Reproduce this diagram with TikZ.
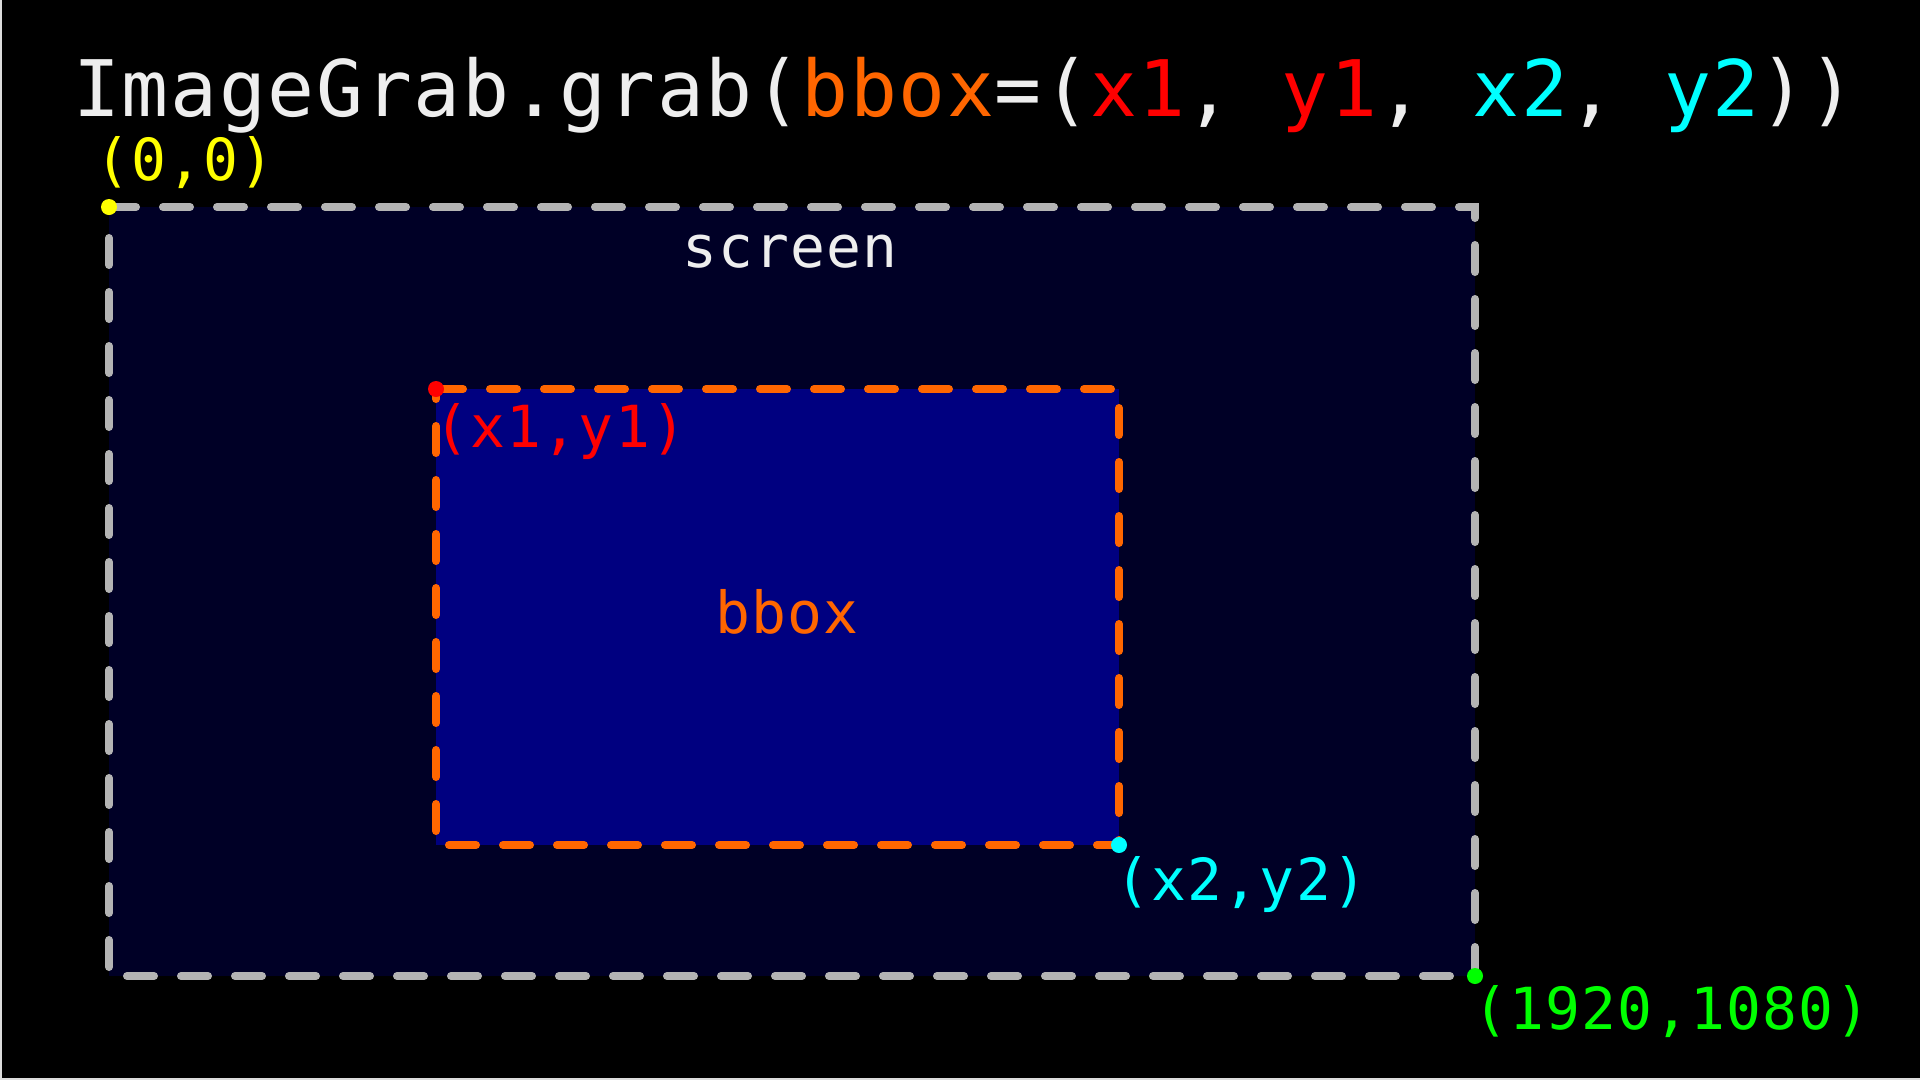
\documentclass[tikz,border=0pt]{standalone}
\usepackage{fontspec}
\newfontfamily\monofam[LetterSpace=2.2]{DejaVu Sans Mono}
\definecolor{txtw}{HTML}{EEEEEE}
\definecolor{scrgray}{HTML}{B4B4B4}
\definecolor{bboxorange}{HTML}{FF6600}
\definecolor{xyred}{HTML}{FF0000}
\definecolor{xycyan}{HTML}{00FFFF}
\definecolor{originyellow}{HTML}{FFFF00}
\definecolor{endgreen}{HTML}{00FF00}
\definecolor{scrfill}{HTML}{000026}
\definecolor{bboxfill}{HTML}{000080}
\definecolor{edgegray}{HTML}{DCDCDC}
\tikzset{
  dashbox/.style={line width=8pt, dash pattern=on 27pt off 27pt, line cap=round},
  dotmark/.style={circle, inner sep=0pt, minimum size=16pt},
  lbl/.style={inner sep=0pt, anchor=base west, font=\monofam\fontsize{58}{64}\selectfont},
  ctrlbl/.style={inner sep=0pt, anchor=base, font=\monofam\fontsize{58}{64}\selectfont},
}
\begin{document}
\begin{tikzpicture}[x=1pt,y=-1pt]
\fill[black] (0,0) rectangle (1920,1080);
\useasboundingbox (0,0) rectangle (1920,1080);
\fill[edgegray] (0,0) rectangle (2,1080);
\fill[edgegray] (0,1078) rectangle (1920,1080);
\coordinate (s1) at (109,207);
\coordinate (s2) at (1475,976);
\coordinate (b1) at (436,389);
\coordinate (b2) at (1119,845);
\fill[scrfill] (s1) rectangle (s2);
\fill[bboxfill] (b1) rectangle (b2);
\draw[dashbox, scrgray] (s1) -- (s1 -| s2) -- (s2) -- (s1 |- s2) -- cycle;
\draw[dashbox, bboxorange] (b1) -- (b1 -| b2) -- (b2) -- (b1 |- b2) -- cycle;
\node[dotmark, fill=originyellow] (d00) at (s1) {};
\node[dotmark, fill=xyred] (dx1) at (b1) {};
\node[dotmark, fill=xycyan] (dx2) at (b2) {};
\node[dotmark, fill=endgreen] (dend) at (s2) {};
\node[inner sep=0pt, anchor=base west, font=\monofam\fontsize{78}{86}\selectfont, text=txtw] (title) at (73,116)
  {ImageGrab.grab(\textcolor{bboxorange}{bbox}=(\textcolor{xyred}{x1}, \textcolor{xyred}{y1}, \textcolor{xycyan}{x2}, \textcolor{xycyan}{y2}))};
\node[lbl, text=originyellow] (l00) at (95,180) {(0,0)};
\node[ctrlbl, text=txtw] (lscreen) at (790,267) {screen};
\node[lbl, text=xyred] (lx1) at (434,447) {(x1,y1)};
\node[ctrlbl, text=bboxorange] (lbbox) at (787,633) {bbox};
\node[lbl, text=xycyan] (lx2) at (1115,900) {(x2,y2)};
\node[lbl, text=endgreen] (lend) at (1473,1029) {(1920,1080)};
\end{tikzpicture}
\end{document}
